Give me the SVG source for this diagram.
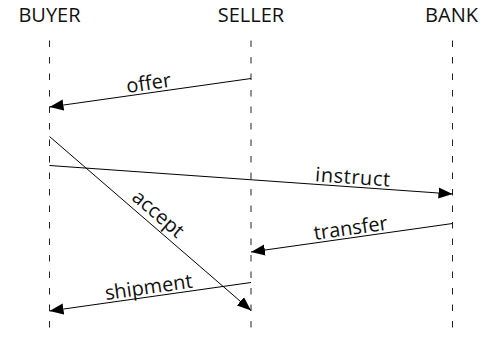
<svg xmlns="http://www.w3.org/2000/svg" width="484" height="337" viewBox="0 0 484 337">
  <style>
    .hdr { font-family: "Open Sans", "Noto Sans", "DejaVu Sans", sans-serif; font-size: 20px; fill: #111; text-anchor: middle; }
    .lbl { font-family: "Open Sans", "Noto Sans", "DejaVu Sans", sans-serif; font-size: 20px; fill: #111; text-anchor: middle; }
    .life { stroke: #222; stroke-width: 1; stroke-dasharray: 6.5 10; fill: none; }
    .msg { stroke: #000; stroke-width: 1; fill: none; marker-end: url(#arrow); }
  </style>
  <defs>
    <marker id="arrow" markerUnits="userSpaceOnUse" markerWidth="14" markerHeight="12" refX="14" refY="5.5" orient="auto" viewBox="0 0 14 11">
      <path d="M0,0 L14,5.5 L0,11 z" fill="#000"/>
    </marker>
  </defs>
  <rect width="484" height="337" fill="#fff"/>
  <g id="buyer">
    <text class="hdr" x="49.5" y="22">BUYER</text>
    <line class="life" x1="49.5" y1="40.5" x2="49.5" y2="337"/>
  </g>
  <g id="seller">
    <text class="hdr" x="251" y="22">SELLER</text>
    <line class="life" x1="251" y1="40.5" x2="251" y2="337"/>
  </g>
  <g id="bank">
    <text class="hdr" x="451.5" y="22">BANK</text>
    <line class="life" x1="452.5" y1="40.5" x2="452.5" y2="337"/>
  </g>
  <g id="connectors">
    <line class="msg" x1="251" y1="78.5" x2="49.5" y2="107"/>
    <line class="msg" x1="49.5" y1="136.5" x2="251" y2="310.5"/>
    <line class="msg" x1="49.5" y1="165.5" x2="452.5" y2="194"/>
    <line class="msg" x1="452.5" y1="223.5" x2="251" y2="252"/>
    <line class="msg" x1="251" y1="282.5" x2="49.5" y2="311"/>
    <text class="lbl" transform="translate(150,92.75) rotate(-8.03)" x="0" y="-3">offer</text>
    <text class="lbl" transform="translate(150,223.5) rotate(40.74)" x="0" y="-6">accept</text>
    <text class="lbl" transform="translate(352,186.9) rotate(4.03)" x="0" y="-3" textLength="75">instruct</text>
    <text class="lbl" transform="translate(352,237.75) rotate(-8.03)" x="0" y="-3">transfer</text>
    <text class="lbl" transform="translate(150,296.75) rotate(-8.1)" x="0" y="-3">shipment</text>
  </g>
</svg>
